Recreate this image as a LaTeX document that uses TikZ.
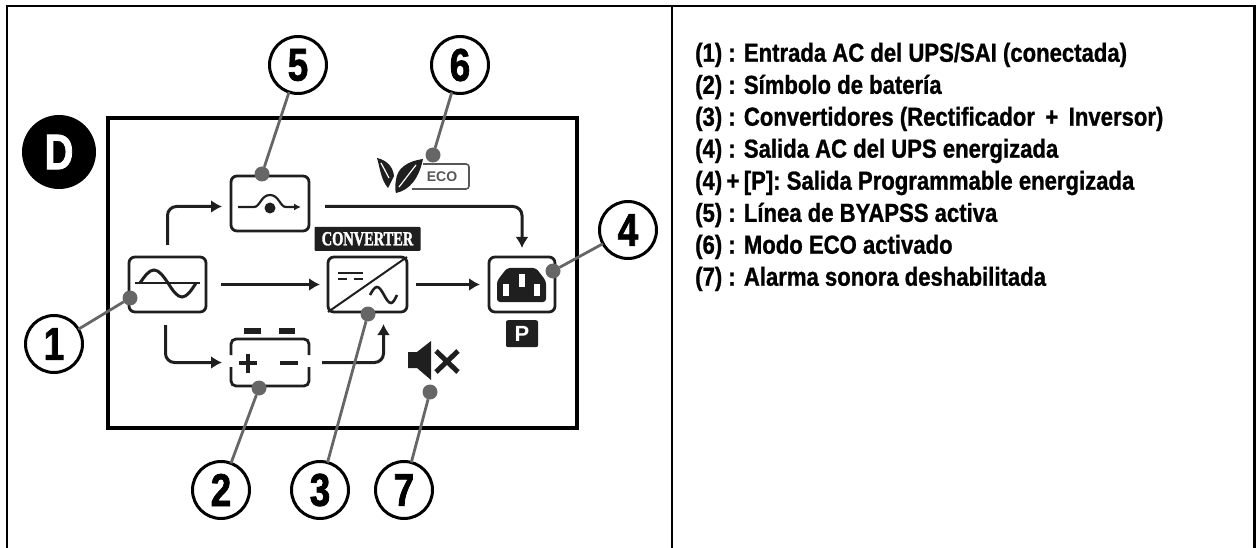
\documentclass[tikz,border=0pt]{standalone}
\usepackage{fontspec}
\setmainfont{Liberation Sans}
\newfontfamily\legendfont[FakeStretch=0.85,BoldFeatures={FakeBold=1}]{Liberation Sans}
\newfontfamily\numfont[FakeStretch=0.8,BoldFeatures={FakeBold=1.6}]{Liberation Sans}
\newfontfamily\badgefont[FakeStretch=0.72,BoldFeatures={FakeBold=1.5}]{Liberation Serif}
\usetikzlibrary{positioning, arrows.meta}

\definecolor{leadergray}{HTML}{666666}
\definecolor{icongray}{HTML}{1F1F1F}

\tikzset{
    iconbox/.style={rectangle, draw=icongray, line width=2.8pt, rounded corners=6pt, outer sep=0pt, inner sep=0pt},
    flow/.style={draw=icongray, line width=3pt, rounded corners=9pt, -{Latex[length=11pt,width=13pt]}},
    numcircle/.style={circle, draw, line width=3pt, fill=white, minimum size=57pt, inner sep=0pt, outer sep=0pt, font=\numfont\bfseries\fontsize{46}{46}\selectfont},
    leaderdot/.style={circle, fill=leadergray, minimum size=15pt, inner sep=0pt, outer sep=0pt},
    leader/.style={draw=leadergray, line width=2.8pt},
    legend/.style={anchor=west, inner sep=0pt, font=\legendfont\bfseries\fontsize{26}{26}\selectfont}
}

\begin{document}
\begin{tikzpicture}[x=1pt, y=-1pt]
    \useasboundingbox (0,0) rectangle (1256,548);

    %-----Frames-----

    % Outer table lines
    \coordinate (tl) at (7,6);
    \coordinate (tr) at (1254.5,6);
    \coordinate (bl) at (7,548);
    \coordinate (br) at (1254.5,548);
    \coordinate (mt) at (672,6);
    \coordinate (mb) at (672,548);
    \draw[line width=2.2pt] (bl) -- (tl) -- (tr) -- (br);
    \draw[line width=2.2pt] (mt) -- (mb);

    % Display frame
    \node[rectangle, draw, line width=3.4pt, minimum width=469pt, minimum height=310pt, outer sep=0pt] (lcd) at (342.5,273) {};

    % Panel badge
    \node[circle, fill=black, minimum size=74pt, inner sep=0pt, text=white, font=\numfont\bfseries\fontsize{50}{50}\selectfont] (panel) at (59,152) {D};

    %-----Icons-----

    % AC input
    \node[iconbox, minimum width=77pt, minimum height=55pt] (ac) at (167.5,284.5) {};
    \draw[icongray, line width=2.2pt] (135,283) -- (200,283);
    \draw[icongray, line width=3pt] (140,283) sin (154,270) cos (168,283) sin (182,297) cos (196,283);

    % Bypass
    \node[iconbox, minimum width=78pt, minimum height=55pt, above right=26pt and 25pt of ac] (byp) {};
    \draw[icongray, line width=2.2pt, -{Latex[length=7pt,width=7pt]}] (238,207) -- (254,207) .. controls (260,207) and (261,195) .. (270,195) .. controls (279,195) and (280,207) .. (286,207) -- (301,207);
    \node[circle, fill=icongray, minimum size=11pt, inner sep=0pt] (bypdot) at (270,208) {};

    % Converter
    \node[iconbox, minimum width=79pt, minimum height=55pt, right=122pt of ac] (conv) {};
    \draw[icongray, line width=2pt] (conv.south west) -- (conv.north east);
    \draw[icongray, line width=2.4pt] (338,273) -- (363,273);
    \draw[icongray, line width=2.4pt] (338,279) -- (347,279) (354,279) -- (363,279);
    \draw[icongray, line width=2.6pt] (370,295) sin (377,287) cos (384,295) sin (391,303) cos (397,295);
    \node[rectangle, fill=icongray, rounded corners=1pt, minimum width=106pt, minimum height=24pt, inner sep=0pt, text=white, font=\badgefont\bfseries\fontsize{20}{20}\selectfont, above=6pt of conv] (convlabel) {CONVERTER};

    % Battery
    \node[rectangle, minimum width=78pt, minimum height=47pt, outer sep=0pt, below right=27pt and 25pt of ac] (bat) {};
    \draw[icongray, line width=2.8pt, rounded corners=5pt] (231,355) -- (231,339) -- (309,339) -- (309,355);
    \draw[icongray, line width=2.8pt, rounded corners=5pt] (231,367) -- (231,386) -- (309,386) -- (309,367);
    \fill[icongray] (244,328) rectangle (261,334);
    \fill[icongray] (279,328) rectangle (295,334);
    \draw[icongray, line width=4.4pt] (239,363) -- (257,363) (248,354) -- (248,373);
    \draw[icongray, line width=4.4pt] (280,363) -- (298,363);

    % AC output
    \node[iconbox, minimum width=66pt, minimum height=55pt, right=82pt of conv] (out) {};
    \fill[icongray, rounded corners=3pt] (497,281) -- (507,268) -- (536,268) -- (546,281) -- (546,302) -- (497,302) -- cycle;
    \fill[white] (519,274) rectangle (525,287);
    \fill[white] (503,284) rectangle (509,296);
    \fill[white] (534,284) rectangle (540,296);
    \node[rectangle, fill=icongray, rounded corners=2pt, minimum width=32pt, minimum height=27pt, inner sep=0pt, text=white, font=\bfseries\fontsize{22}{22}\selectfont, below=8pt of out] (prog) {P};

    % Eco
    \draw[icongray!75, line width=1.6pt, rounded corners=3pt] (423,164) -- (469,164) -- (469,189) -- (412,189);
    \node[inner sep=0pt, text=icongray!75, font=\bfseries\fontsize{14}{14}\selectfont] (eco) at (442,177) {ECO};
    \fill[icongray] (377,158) .. controls (386,160) and (393,166) .. (394,176) .. controls (392,180) and (390,184) .. (388,188) .. controls (381,180) and (380,168) .. (377,158) -- cycle;
    \fill[icongray] (423,159) .. controls (408,161) and (397,168) .. (396,180) .. controls (395,185) and (395,190) .. (396,193) .. controls (410,190) and (419,178) .. (423,159) -- cycle;
    \draw[white, line width=1.2pt] (381,163) -- (389,178);
    \draw[white, line width=1.2pt] (416,165) -- (399,187);

    % Speaker
    \fill[icongray] (408,352) -- (417,352) -- (431,341) -- (431,380) -- (417,368) -- (408,368) -- cycle;
    \draw[icongray, line width=5pt] (436,351) -- (458,372) (458,351) -- (436,372);

    %-----Power Flow-----

    % Input to bypass
    \draw[flow, shorten <=12pt, shorten >=9pt] (ac.north) |- ([yshift=-3pt]byp.west);

    % Bypass to output
    \draw[flow, shorten >=9pt] ([xshift=16pt,yshift=-3pt]byp.east) -| (out.north);

    % Input to converter
    \draw[flow, shorten <=15pt, shorten >=8pt] (ac) -- (conv);

    % Converter to output
    \draw[flow, shorten <=9pt, shorten >=9pt] (conv) -- (out);

    % Input to battery
    \draw[flow, shorten <=13pt, shorten >=9pt] ([xshift=-2pt]ac.south) |- (bat.west);

    % Battery to converter
    \draw[flow, shorten >=12pt] ([xshift=13pt]bat.east) -| ([xshift=16pt]conv.south);

    %-----Callouts-----

    \node[numcircle] (n1) at (54,344) {1};
    \node[numcircle] (n2) at (221,490) {2};
    \node[numcircle] (n3) at (320,490) {3};
    \node[numcircle] (n4) at (628,230) {4};
    \node[numcircle] (n5) at (298,65) {5};
    \node[numcircle] (n6) at (460,65) {6};
    \node[numcircle] (n7) at (404,490) {7};

    \node[leaderdot] (d1) at (130,298) {};
    \node[leaderdot] (d2) at (259,388) {};
    \node[leaderdot] (d3) at (368,314) {};
    \node[leaderdot] (d4) at (553,271) {};
    \node[leaderdot] (d5) at (262,174) {};
    \node[leaderdot] (d6) at (433,155) {};
    \node[leaderdot] (d7) at (430,392) {};

    \foreach \i in {1,...,7}
        \draw[leader] (d\i) -- (n\i);

    %-----Legend-----

    \node[legend] (l1) at (695,55) {(1) : Entrada AC del UPS/SAI (conectada)};
    \node[legend, below=32pt of l1.west, anchor=west] (l2) {(2) : Símbolo de batería};
    \node[legend, below=32pt of l2.west, anchor=west] (l3) {(3) : Convertidores (Rectificador \,+\, Inversor)};
    \node[legend, below=32pt of l3.west, anchor=west] (l4) {(4) : Salida AC del UPS energizada};
    \node[legend, below=32pt of l4.west, anchor=west] (l5) {(4)\,+\,[P]: Salida Programmable energizada};
    \node[legend, below=32pt of l5.west, anchor=west] (l6) {(5) : Línea de BYAPSS activa};
    \node[legend, below=32pt of l6.west, anchor=west] (l7) {(6) : Modo ECO activado};
    \node[legend, below=32pt of l7.west, anchor=west] (l8) {(7) : Alarma sonora deshabilitada};

\end{tikzpicture}
\end{document}
